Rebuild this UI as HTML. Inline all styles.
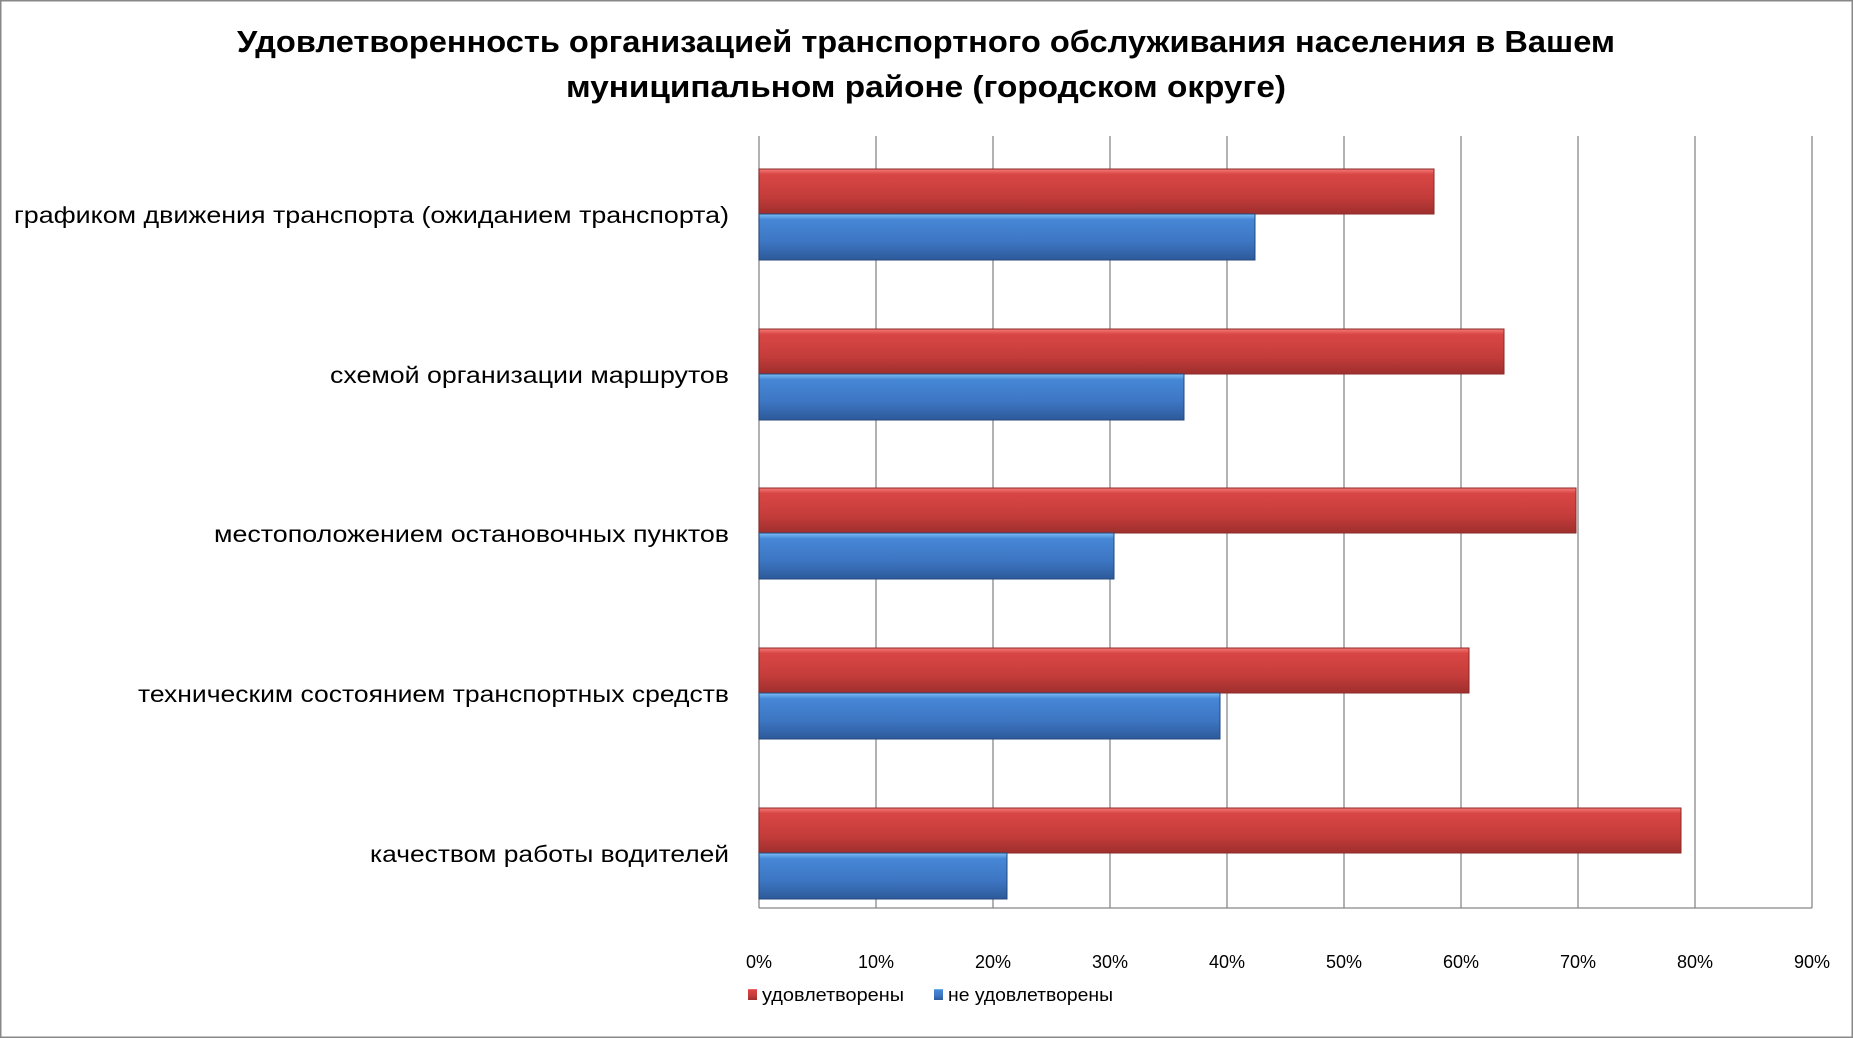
<!DOCTYPE html>
<html><head><meta charset="utf-8"><style>
html,body{margin:0;padding:0;background:#fff;}
svg{display:block;}
text{font-family:"Liberation Sans",sans-serif;fill:#000;}
</style></head><body>
<svg width="1853" height="1038" viewBox="0 0 1853 1038" xmlns="http://www.w3.org/2000/svg">
<defs>
<linearGradient id="r" x1="0" y1="0" x2="0" y2="1">
<stop offset="0" stop-color="#f47a78"/><stop offset="0.12" stop-color="#d84644"/><stop offset="0.6" stop-color="#c53d3b"/><stop offset="1" stop-color="#9e2f2d"/>
</linearGradient>
<linearGradient id="b" x1="0" y1="0" x2="0" y2="1">
<stop offset="0" stop-color="#7ec0f4"/><stop offset="0.12" stop-color="#4687d6"/><stop offset="0.6" stop-color="#3d76c3"/><stop offset="1" stop-color="#2d5a9a"/>
</linearGradient>
</defs>
<rect x="0.5" y="0.5" width="1852" height="1037" fill="#fff" stroke="#888" stroke-width="2"/>
<text x="926" y="52" text-anchor="middle" font-size="31" font-weight="bold" textLength="1378" lengthAdjust="spacingAndGlyphs">Удовлетворенность организацией транспортного обслуживания населения в Вашем</text>
<text x="926" y="97" text-anchor="middle" font-size="31" font-weight="bold" textLength="720" lengthAdjust="spacingAndGlyphs">муниципальном районе (городском округе)</text>
<g stroke="#888" stroke-width="1.3">
<line x1="759" y1="136" x2="759" y2="908"/><line x1="876" y1="136" x2="876" y2="908"/><line x1="993" y1="136" x2="993" y2="908"/><line x1="1110" y1="136" x2="1110" y2="908"/><line x1="1227" y1="136" x2="1227" y2="908"/><line x1="1344" y1="136" x2="1344" y2="908"/><line x1="1461" y1="136" x2="1461" y2="908"/><line x1="1578" y1="136" x2="1578" y2="908"/><line x1="1695" y1="136" x2="1695" y2="908"/><line x1="1812" y1="136" x2="1812" y2="908"/>
<line x1="759" y1="908" x2="1812" y2="908"/>
</g>
<g stroke-width="1">
<rect x="759" y="169" width="675" height="45" fill="url(#r)" stroke="#8a2a28"/>
<rect x="759" y="214" width="496" height="46" fill="url(#b)" stroke="#24497c"/>
<rect x="759" y="329" width="745" height="45" fill="url(#r)" stroke="#8a2a28"/>
<rect x="759" y="374" width="425" height="46" fill="url(#b)" stroke="#24497c"/>
<rect x="759" y="488" width="817" height="45" fill="url(#r)" stroke="#8a2a28"/>
<rect x="759" y="533" width="355" height="46" fill="url(#b)" stroke="#24497c"/>
<rect x="759" y="648" width="710" height="45" fill="url(#r)" stroke="#8a2a28"/>
<rect x="759" y="693" width="461" height="46" fill="url(#b)" stroke="#24497c"/>
<rect x="759" y="808" width="922" height="45" fill="url(#r)" stroke="#8a2a28"/>
<rect x="759" y="853" width="248" height="46" fill="url(#b)" stroke="#24497c"/>
</g>
<g font-size="23" text-anchor="end">
<text x="729" y="223" textLength="715" lengthAdjust="spacingAndGlyphs">графиком движения транспорта (ожиданием транспорта)</text>
<text x="729" y="383" textLength="399" lengthAdjust="spacingAndGlyphs">схемой организации маршрутов</text>
<text x="729" y="542" textLength="515" lengthAdjust="spacingAndGlyphs">местоположением остановочных пунктов</text>
<text x="729" y="702" textLength="591" lengthAdjust="spacingAndGlyphs">техническим состоянием транспортных средств</text>
<text x="729" y="862" textLength="359" lengthAdjust="spacingAndGlyphs">качеством работы водителей</text>
</g>
<g font-size="18" text-anchor="middle">
<text x="759" y="968">0%</text><text x="876" y="968">10%</text><text x="993" y="968">20%</text><text x="1110" y="968">30%</text><text x="1227" y="968">40%</text><text x="1344" y="968">50%</text><text x="1461" y="968">60%</text><text x="1578" y="968">70%</text><text x="1695" y="968">80%</text><text x="1812" y="968">90%</text>
</g>
<rect x="748" y="989" width="9" height="11" fill="url(#r)"/>
<text x="762" y="1001" font-size="18" textLength="142" lengthAdjust="spacingAndGlyphs">удовлетворены</text>
<rect x="934" y="989" width="9" height="11" fill="url(#b)"/>
<text x="948" y="1001" font-size="18" textLength="165" lengthAdjust="spacingAndGlyphs">не удовлетворены</text>
</svg>
</body></html>
